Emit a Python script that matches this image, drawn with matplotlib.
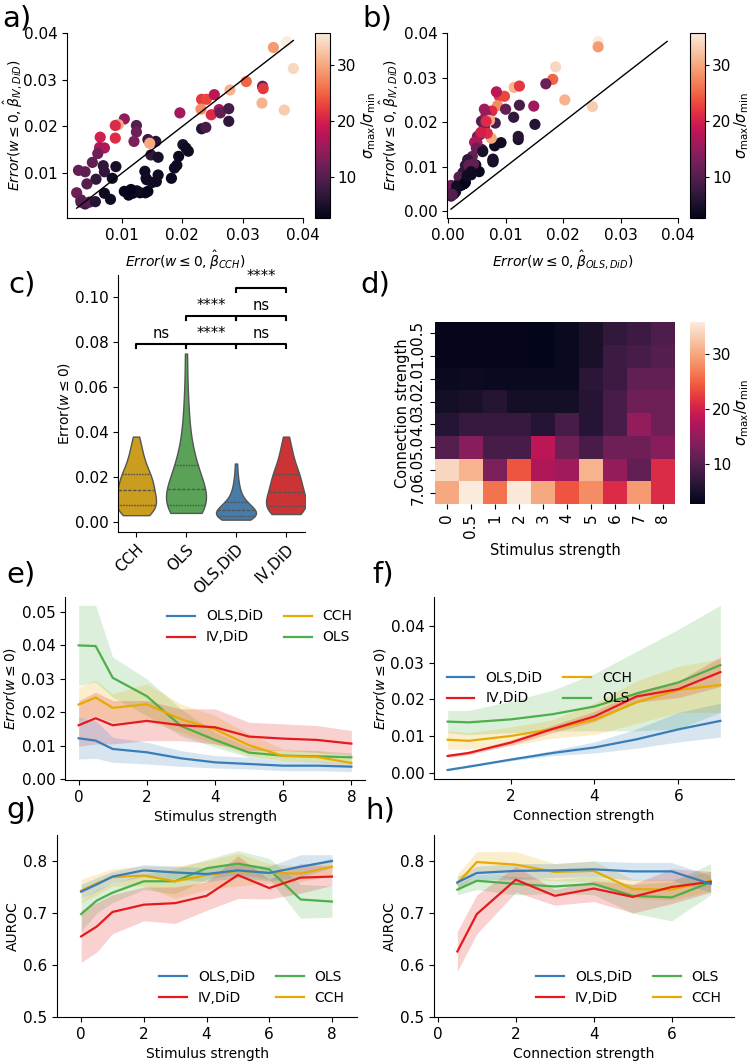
import numpy as np
import pandas as pd
import matplotlib
matplotlib.use("Agg")
import matplotlib.pyplot as plt
import seaborn as sns

# ---------------- data ----------------
# a/b scatter, one entry per network (colour = sigma_max / sigma_min)
ratio = [35.8, 29, 34, 33, 31, 25, 31, 12, 22, 22,
         23, 18, 28, 21, 16, 11, 9, 7, 6, 9,
         16, 5, 4, 4, 3.5, 4, 4, 3.5, 4, 4,
         4, 3, 3, 3, 3, 3, 3, 3, 4, 4,
         7, 6, 8, 30, 10, 12, 13, 15, 30, 21,
         21, 20, 17, 17, 12, 11, 7, 7, 7, 10,
         11, 11, 12, 11, 8, 10, 6, 4, 4, 4,
         5, 10, 5, 4, 2.7, 4]
err_cch = [0.0373, 0.0351, 0.0384, 0.0369, 0.0332, 0.0306, 0.0279, 0.0333, 0.0334, 0.0232,
           0.0240, 0.0253, 0.0231, 0.0248, 0.0261, 0.0263, 0.0277, 0.0277, 0.0232, 0.0239,
           0.0196, 0.0201, 0.0206, 0.0210, 0.0194, 0.0191, 0.0187, 0.0182, 0.0157, 0.0160,
           0.0140, 0.0143, 0.0139, 0.0130, 0.0124, 0.0118, 0.0111, 0.0104, 0.0138, 0.0141,
           0.0148, 0.0156, 0.0143, 0.0146, 0.0124, 0.0124, 0.0120, 0.0104, 0.0094, 0.0089,
           0.0089, 0.0064, 0.0071, 0.0063, 0.0060, 0.0051, 0.0069, 0.0071, 0.0057, 0.0042,
           0.0028, 0.0039, 0.0025, 0.0032, 0.0039, 0.0046, 0.0056, 0.0071, 0.0081, 0.0084,
           0.0090, 0.0032, 0.0160, 0.0125, 0.0115, 0.0150]
err_iv_did = [0.0381, 0.0369, 0.0324, 0.0235, 0.0250, 0.0296, 0.0278, 0.0286, 0.0281, 0.0258,
              0.0258, 0.0268, 0.0237, 0.0225, 0.0236, 0.0229, 0.0238, 0.0211, 0.0195, 0.0198,
              0.0229, 0.0161, 0.0154, 0.0147, 0.0136, 0.0117, 0.0111, 0.0089, 0.0082, 0.0096,
              0.0089, 0.0061, 0.0058, 0.0058, 0.0061, 0.0057, 0.0053, 0.0061, 0.0104, 0.0086,
              0.0139, 0.0168, 0.0172, 0.0164, 0.0202, 0.0188, 0.0168, 0.0216, 0.0204, 0.0202,
              0.0175, 0.0177, 0.0154, 0.0155, 0.0142, 0.0123, 0.0116, 0.0103, 0.0087, 0.0077,
              0.0106, 0.0103, 0.0058, 0.0043, 0.0034, 0.0038, 0.0039, 0.0057, 0.0044, 0.0089,
              0.0114, 0.0038, 0.0134, 0.0062, 0.0065, 0.0080]
err_ols_did = [0.0261, 0.0261, 0.0187, 0.0251, 0.0203, 0.0182, 0.0115, 0.0170, 0.0124, 0.0089,
               0.0098, 0.0084, 0.0086, 0.0076, 0.0149, 0.0100, 0.0124, 0.0114, 0.0151, 0.0082,
               0.0063, 0.0122, 0.0092, 0.0081, 0.0060, 0.0078, 0.0078, 0.0054, 0.0040, 0.0036,
               0.0042, 0.0025, 0.0022, 0.0020, 0.0018, 0.0015, 0.0012, 0.0026, 0.0048, 0.0030,
               0.0058, 0.0122, 0.0055, 0.0075, 0.0058, 0.0063, 0.0051, 0.0066, 0.0072, 0.0066,
               0.0068, 0.0057, 0.0050, 0.0046, 0.0049, 0.0042, 0.0034, 0.0030, 0.0026, 0.0019,
               0.0044, 0.0036, 0.0005, 0.0009, 0.0005, 0.0007, 0.0010, 0.0015, 0.0013, 0.0040,
               0.0078, 0.0007, 0.0060, 0.0028, 0.0030, 0.0033]

# c) violin samples, per method
vio_cch = [0.003, 0.0035, 0.004, 0.0045, 0.005, 0.0055, 0.006, 0.0063, 0.0067, 0.007,
           0.0076, 0.0083, 0.009, 0.0097, 0.0104, 0.011, 0.0117, 0.0124, 0.0132, 0.014,
           0.0147, 0.0154, 0.0161, 0.0168, 0.0175, 0.0182, 0.019, 0.0197, 0.0204, 0.021,
           0.022, 0.023, 0.0243, 0.0256, 0.027, 0.0287, 0.0305, 0.0325, 0.035, 0.038]
vio_ols = [0.004, 0.0045, 0.0049, 0.0053, 0.0057, 0.006, 0.0063, 0.0066, 0.0068, 0.007,
           0.0077, 0.0084, 0.0091, 0.0098, 0.0105, 0.0112, 0.0119, 0.0126, 0.0133, 0.014,
           0.0151, 0.0162, 0.0173, 0.0184, 0.0195, 0.0206, 0.0217, 0.0228, 0.024, 0.025,
           0.027, 0.029, 0.0315, 0.034, 0.037, 0.041, 0.046, 0.052, 0.061, 0.075]
vio_ols_did = [0.001, 0.0013, 0.0015, 0.0017, 0.0019, 0.002, 0.0021, 0.0022, 0.0024, 0.0025,
               0.0028, 0.003, 0.0033, 0.0035, 0.0038, 0.004, 0.0043, 0.0045, 0.0048, 0.005,
               0.0053, 0.0056, 0.0059, 0.0062, 0.0066, 0.007, 0.0074, 0.0078, 0.0082, 0.0085,
               0.0093, 0.0101, 0.011, 0.012, 0.0132, 0.0146, 0.0163, 0.0185, 0.0215, 0.026]
vio_iv_did = [0.0035, 0.0039, 0.0043, 0.0047, 0.005, 0.0054, 0.0057, 0.006, 0.0063, 0.0065,
              0.0072, 0.0079, 0.0086, 0.0093, 0.01, 0.0107, 0.0114, 0.0121, 0.0126, 0.013,
              0.0138, 0.0147, 0.0156, 0.0165, 0.0173, 0.0181, 0.0189, 0.0197, 0.0204, 0.021,
              0.022, 0.023, 0.0242, 0.0255, 0.027, 0.0287, 0.0305, 0.0325, 0.035, 0.038]

# d heatmap
stim_labels = ["0", "0.5", "1", "2", "3", "4", "5", "6", "7", "8"]
conn_labels = ["0.5", "1.0", "2.0", "3.0", "4.0", "5.0", "6.0", "7.0"]
heat_ratio = [
    [3.0, 3.0, 3.0, 3.0, 2.7, 3.5, 5.0, 7.0, 8.0, 9.5],
    [3.0, 3.0, 3.0, 3.0, 2.8, 3.5, 5.0, 8.0, 9.0, 10.0],
    [3.5, 3.8, 3.5, 3.5, 3.5, 3.5, 6.5, 8.0, 11.0, 11.0],
    [4.5, 5.0, 6.0, 4.5, 4.5, 4.5, 6.0, 9.0, 12.0, 12.0],
    [6.0, 7.5, 7.5, 7.5, 6.0, 9.0, 6.0, 9.0, 15.0, 12.0],
    [10.0, 14.0, 9.0, 9.0, 18.0, 12.0, 9.0, 12.0, 12.0, 14.0],
    [34.0, 31.0, 13.0, 24.0, 17.0, 16.0, 31.0, 15.0, 11.0, 21.0],
    [30.0, 35.8, 26.0, 35.5, 30.0, 24.0, 28.0, 21.0, 29.0, 21.0],
]

# e/g x values, f/h x values
stim = [0, 0.5, 1, 2, 3, 4, 5, 6, 7, 8]
conn = [0.5, 1, 2, 3, 4, 5, 6, 7]

# e) error vs stimulus: [mean, lower, upper]
e_ols_did = [[0.0122, 0.0115, 0.0090, 0.0080, 0.0062, 0.0050, 0.0045, 0.0040, 0.0040, 0.0037],
             [0.0060, 0.0062, 0.0050, 0.0045, 0.0038, 0.0033, 0.0030, 0.0025, 0.0025, 0.0022],
             [0.0185, 0.0175, 0.0125, 0.0110, 0.0085, 0.0070, 0.0065, 0.0055, 0.0055, 0.0050]]
e_iv_did = [[0.0161, 0.0182, 0.0161, 0.0174, 0.0161, 0.0155, 0.0127, 0.0121, 0.0117, 0.0106],
            [0.0098, 0.0105, 0.0105, 0.0115, 0.0115, 0.0105, 0.0085, 0.0085, 0.0080, 0.0070],
            [0.0235, 0.0260, 0.0235, 0.0235, 0.0210, 0.0210, 0.0170, 0.0165, 0.0160, 0.0145]]
e_cch = [[0.0223, 0.0244, 0.0213, 0.0224, 0.0179, 0.0149, 0.0101, 0.0069, 0.0066, 0.0048],
         [0.0175, 0.0190, 0.0170, 0.0175, 0.0140, 0.0105, 0.0070, 0.0055, 0.0050, 0.0035],
         [0.0275, 0.0295, 0.0255, 0.0285, 0.0225, 0.0190, 0.0135, 0.0090, 0.0085, 0.0065]]
e_ols = [[0.0400, 0.0398, 0.0303, 0.0248, 0.0159, 0.0117, 0.0079, 0.0070, 0.0068, 0.0065],
         [0.0280, 0.0290, 0.0245, 0.0190, 0.0130, 0.0095, 0.0065, 0.0055, 0.0055, 0.0050],
         [0.0520, 0.0520, 0.0365, 0.0300, 0.0210, 0.0140, 0.0095, 0.0085, 0.0085, 0.0078]]

# f) error vs connection strength
f_ols_did = [[0.0009, 0.0018, 0.0037, 0.0055, 0.0070, 0.0092, 0.0119, 0.0142],
             [0.0007, 0.0016, 0.0034, 0.0048, 0.0055, 0.0068, 0.0085, 0.0098],
             [0.0011, 0.0020, 0.0040, 0.0062, 0.0085, 0.0120, 0.0165, 0.0190]]
f_iv_did = [[0.0047, 0.0055, 0.0083, 0.0120, 0.0154, 0.0208, 0.0228, 0.0274],
            [0.0043, 0.0050, 0.0076, 0.0110, 0.0140, 0.0192, 0.0205, 0.0235],
            [0.0052, 0.0060, 0.0090, 0.0130, 0.0168, 0.0222, 0.0250, 0.0315]]
f_cch = [[0.0091, 0.0088, 0.0101, 0.0120, 0.0145, 0.0192, 0.0226, 0.0239],
         [0.0065, 0.0065, 0.0075, 0.0095, 0.0105, 0.0135, 0.0165, 0.0165],
         [0.0115, 0.0110, 0.0125, 0.0145, 0.0190, 0.0250, 0.0290, 0.0310]]
f_ols = [[0.0140, 0.0138, 0.0146, 0.0160, 0.0181, 0.0216, 0.0246, 0.0293],
         [0.0110, 0.0105, 0.0110, 0.0115, 0.0115, 0.0115, 0.0120, 0.0165],
         [0.0170, 0.0170, 0.0195, 0.0225, 0.0270, 0.0330, 0.0390, 0.0455]]

# g) AUROC vs stimulus
g_ols_did = [[0.741, 0.755, 0.770, 0.782, 0.778, 0.775, 0.782, 0.777, 0.789, 0.800],
             [0.728, 0.742, 0.758, 0.770, 0.765, 0.760, 0.768, 0.762, 0.768, 0.788],
             [0.755, 0.768, 0.780, 0.793, 0.790, 0.787, 0.795, 0.790, 0.812, 0.812]]
g_iv_did = [[0.655, 0.674, 0.702, 0.716, 0.719, 0.733, 0.773, 0.748, 0.768, 0.770],
            [0.605, 0.625, 0.660, 0.685, 0.680, 0.705, 0.728, 0.727, 0.738, 0.753],
            [0.705, 0.720, 0.735, 0.750, 0.750, 0.760, 0.810, 0.765, 0.795, 0.790]]
g_ols = [[0.698, 0.724, 0.739, 0.761, 0.761, 0.786, 0.795, 0.784, 0.726, 0.722],
         [0.665, 0.700, 0.720, 0.745, 0.737, 0.765, 0.775, 0.765, 0.690, 0.692],
         [0.725, 0.745, 0.757, 0.775, 0.785, 0.803, 0.820, 0.805, 0.755, 0.752]]
g_cch = [[0.743, 0.757, 0.769, 0.772, 0.761, 0.773, 0.781, 0.777, 0.776, 0.789],
         [0.720, 0.735, 0.752, 0.752, 0.728, 0.745, 0.752, 0.758, 0.760, 0.772],
         [0.765, 0.775, 0.785, 0.790, 0.790, 0.800, 0.815, 0.795, 0.790, 0.805]]

# h) AUROC vs connection strength
h_ols_did = [[0.759, 0.777, 0.781, 0.782, 0.784, 0.780, 0.780, 0.756],
             [0.745, 0.763, 0.765, 0.768, 0.770, 0.763, 0.763, 0.740],
             [0.770, 0.790, 0.795, 0.795, 0.800, 0.797, 0.797, 0.772]]
h_iv_did = [[0.626, 0.698, 0.764, 0.733, 0.747, 0.731, 0.750, 0.760],
            [0.588, 0.660, 0.740, 0.715, 0.722, 0.700, 0.718, 0.740],
            [0.665, 0.735, 0.790, 0.745, 0.762, 0.755, 0.785, 0.780]]
h_ols = [[0.745, 0.762, 0.756, 0.751, 0.756, 0.733, 0.730, 0.759],
         [0.735, 0.745, 0.735, 0.738, 0.735, 0.700, 0.685, 0.735],
         [0.755, 0.775, 0.770, 0.765, 0.770, 0.755, 0.760, 0.795]]
h_cch = [[0.757, 0.798, 0.793, 0.779, 0.781, 0.746, 0.745, 0.762],
         [0.740, 0.778, 0.765, 0.762, 0.760, 0.728, 0.725, 0.742],
         [0.775, 0.818, 0.818, 0.795, 0.800, 0.765, 0.765, 0.780]]

# ---------------- style ----------------
plt.rcParams["font.size"] = 10
plt.rcParams["xtick.labelsize"] = 11
plt.rcParams["ytick.labelsize"] = 11
plt.rcParams["legend.fontsize"] = 10
rocket = sns.color_palette("rocket", as_cmap=True)
col = {"OLS,DiD": "#377eb8", "IV,DiD": "#e41a1c", "CCH": "#e6ab02", "OLS": "#4daf4a"}

W, H = 750, 1061
fig = plt.figure(figsize=(W / 100, H / 100), dpi=100)


def box(l, t, r, b):
    return [l / W, 1 - b / H, (r - l) / W, (b - t) / H]


def despine(ax):
    ax.spines["top"].set_visible(False)
    ax.spines["right"].set_visible(False)


def label(x, y, s):
    fig.text(x / W, 1 - y / H, s, fontsize=21, va="top", ha="left")


def cbar_style(cax, xlab):
    cax.tick_params(length=3, pad=2)
    cax.set_ylabel(r"$\sigma_{\max}/\sigma_{\min}$", fontsize=10.5)
    cax.yaxis.set_label_coords(xlab, 0.5)


# ---------------- a / b scatter ----------------
def scatter_panel(ax, cax, x, xlabel):
    sc = ax.scatter(x, err_iv_did, c=ratio, cmap=rocket, s=65, linewidths=0)
    lo = min(min(x), min(err_iv_did))
    hi = max(max(x), max(err_iv_did))
    ax.plot([lo, hi], [lo, hi], color="k", lw=1)
    ax.set_xlabel(xlabel)
    ax.set_ylabel(r"$Error(w \leq 0, \hat{\beta}_{IV, DiD})$")
    despine(ax)
    cb = fig.colorbar(sc, cax=cax)
    cb.set_ticks([10, 20, 30])
    return cb


ax_a = fig.add_axes(box(67, 33, 303, 218))
cax_a = fig.add_axes(box(315, 33, 330, 218))
scatter_panel(ax_a, cax_a, err_cch, r"$Error(w \leq 0, \hat{\beta}_{CCH})$")
ax_a.set_xlim(0.0009, 0.04)
ax_a.set_ylim(0.0004, 0.04)
ax_a.set_xticks([0.01, 0.02, 0.03, 0.04])
ax_a.set_yticks([0.01, 0.02, 0.03, 0.04])
ax_a.yaxis.set_label_coords(-0.178, 0.5)
cbar_style(cax_a, 2.95)

ax_b = fig.add_axes(box(447, 33, 678, 218))
cax_b = fig.add_axes(box(690, 33, 705, 218))
scatter_panel(ax_b, cax_b, err_ols_did, r"$Error(w \leq 0, \hat{\beta}_{OLS, DiD})$")
ax_b.set_xlim(-0.0002, 0.04)
ax_b.set_ylim(-0.0015, 0.04)
ax_b.set_xticks([0.0, 0.01, 0.02, 0.03, 0.04])
ax_b.set_yticks([0.0, 0.01, 0.02, 0.03, 0.04])
ax_b.yaxis.set_label_coords(-0.198, 0.5)
cbar_style(cax_b, 2.85)

# ---------------- c violin ----------------
methods = ["CCH", "OLS", "OLS,DiD", "IV,DiD"]
df = pd.DataFrame({
    "method": (["CCH"] * len(vio_cch) + ["OLS"] * len(vio_ols)
               + ["OLS,DiD"] * len(vio_ols_did) + ["IV,DiD"] * len(vio_iv_did)),
    "err": vio_cch + vio_ols + vio_ols_did + vio_iv_did,
})
ax_c = fig.add_axes(box(118, 275, 305, 532))
sns.violinplot(data=df, x="method", y="err", hue="method", order=methods,
               palette=col, inner="quart", cut=0, linewidth=1, linecolor="#555555",
               ax=ax_c, legend=False)
ax_c.set_xlim(-0.36, 3.38)
ax_c.set_ylim(-0.0045, 0.11)
ax_c.set_yticks([0.0, 0.02, 0.04, 0.06, 0.08, 0.10])
ax_c.set_xlabel("")
ax_c.set_ylabel(r"Error($w \leq 0$)")
ax_c.yaxis.set_label_coords(-0.246, 0.5)
plt.setp(ax_c.get_xticklabels(), rotation=45, ha="right", rotation_mode="anchor")
despine(ax_c)

# significance brackets: (x1, x2, y, text)
brackets = [(0, 1, 0.0791, "ns"), (1, 2, 0.0791, "****"), (2, 3, 0.0791, "ns"),
            (1, 2, 0.0917, "****"), (2, 3, 0.0917, "ns"), (2, 3, 0.1043, "****")]
for x1, x2, y, t in brackets:
    ax_c.plot([x1, x1, x2, x2], [y - 0.0018, y, y, y - 0.0018], color="k", lw=1.5)
    ax_c.text((x1 + x2) / 2, y + 0.0015, t, ha="center", va="bottom", fontsize=10.5)

# ---------------- d heatmap ----------------
ax_d = fig.add_axes(box(435, 322, 675, 504))
cax_d = fig.add_axes(box(690, 322, 705, 504))
sns.heatmap(np.array(heat_ratio), cmap=rocket, ax=ax_d, cbar_ax=cax_d,
            xticklabels=stim_labels, yticklabels=conn_labels)
ax_d.set_xlabel("Stimulus strength", fontsize=10.5)
ax_d.set_ylabel("Connection strength", fontsize=10.5)
ax_d.yaxis.set_label_coords(-0.105, 0.5)
plt.setp(ax_d.get_xticklabels(), rotation=90)
plt.setp(ax_d.get_yticklabels(), rotation=90, va="center")
cax_d.set_yticks([10, 20, 30])
cbar_style(cax_d, 2.85)


# ---------------- e-h line panels ----------------
def line_panel(ax, x, series, order):
    handles = {}
    for name, (m, lo, hi) in series.items():
        ax.fill_between(x, lo, hi, color=col[name], alpha=0.2, lw=0)
        handles[name], = ax.plot(x, m, color=col[name], lw=1.6, label=name)
    despine(ax)
    return [handles[n] for n in order]


ax_e = fig.add_axes(box(65, 597, 365, 780))
hs = line_panel(ax_e, stim, {"OLS": e_ols, "CCH": e_cch, "IV,DiD": e_iv_did, "OLS,DiD": e_ols_did},
                ["OLS,DiD", "IV,DiD", "CCH", "OLS"])
ax_e.legend(hs, [h.get_label() for h in hs], ncol=2, frameon=False, loc="upper right",
            columnspacing=1.5)
ax_e.set_xlabel("Stimulus strength")
ax_e.set_ylabel(r"$Error(w \leq 0)$")
ax_e.yaxis.set_label_coords(-0.155, 0.5)
ax_e.set_yticks([0.0, 0.01, 0.02, 0.03, 0.04, 0.05])

ax_f = fig.add_axes(box(434, 597, 734, 779))
hs = line_panel(ax_f, conn, {"OLS": f_ols, "CCH": f_cch, "IV,DiD": f_iv_did, "OLS,DiD": f_ols_did},
                ["OLS,DiD", "IV,DiD", "CCH", "OLS"])
ax_f.legend(hs, [h.get_label() for h in hs], ncol=2, frameon=False, loc="center left",
            columnspacing=1.5)
ax_f.set_xlabel("Connection strength")
ax_f.set_ylabel(r"$Error(w \leq 0)$")
ax_f.yaxis.set_label_coords(-0.153, 0.5)
ax_f.set_xticks([2, 4, 6])

ax_g = fig.add_axes(box(57, 835, 357, 1017))
hs = line_panel(ax_g, stim, {"OLS": g_ols, "CCH": g_cch, "IV,DiD": g_iv_did, "OLS,DiD": g_ols_did},
                ["OLS,DiD", "IV,DiD", "OLS", "CCH"])
ax_g.legend(hs, [h.get_label() for h in hs], ncol=2, frameon=False, loc="lower right",
            columnspacing=1.5)
ax_g.set_xlim(-0.77, 8.8)
ax_g.set_ylim(0.5, 0.85)
ax_g.set_yticks([0.5, 0.6, 0.7, 0.8])
ax_g.set_xlabel("Stimulus strength")
ax_g.set_ylabel("AUROC")
ax_g.yaxis.set_label_coords(-0.123, 0.5)

ax_h = fig.add_axes(box(434, 835, 734, 1017))
hs = line_panel(ax_h, conn, {"OLS": h_ols, "CCH": h_cch, "IV,DiD": h_iv_did, "OLS,DiD": h_ols_did},
                ["OLS,DiD", "IV,DiD", "OLS", "CCH"])
ax_h.legend(hs, [h.get_label() for h in hs], ncol=2, frameon=False, loc="lower right",
            columnspacing=1.5)
ax_h.set_xlim(-0.1, 7.6)
ax_h.set_ylim(0.5, 0.85)
ax_h.set_xticks([0, 2, 4, 6])
ax_h.set_yticks([0.5, 0.6, 0.7, 0.8])
ax_h.set_xlabel("Connection strength")
ax_h.set_ylabel("AUROC")
ax_h.yaxis.set_label_coords(-0.123, 0.5)

# panel letters
for x, y, s in [(2, 4, "a)"), (362, 4, "b)"), (8, 270, "c)"), (360, 270, "d)"),
                (6, 561, "e)"), (372, 561, "f)"), (6, 796, "g)"), (365, 796, "h)")]:
    label(x, y, s)

fig.savefig("out.png", dpi=100)
